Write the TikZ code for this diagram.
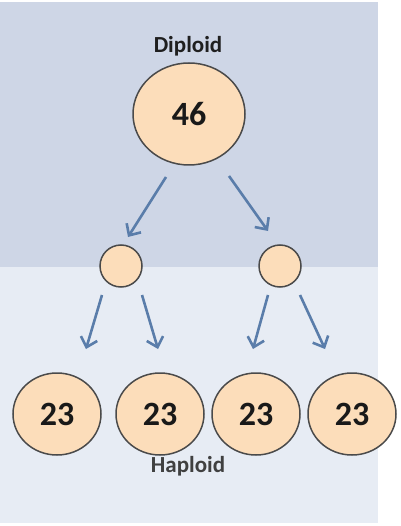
\documentclass[tikz,border=0pt]{standalone}
\usepackage{fontspec}
\setmainfont{Carlito}
\usetikzlibrary{shapes.geometric,arrows.meta}
\definecolor{topbg}{HTML}{CED6E6}
\definecolor{lowbg}{HTML}{E7ECF4}
\definecolor{cellfill}{HTML}{FCDDBA}
\definecolor{cellline}{HTML}{4A4A4A}
\definecolor{arrowblue}{HTML}{5A7DAA}
\tikzset{
  cell/.style={ellipse, draw=cellline, line width=1.5pt, fill=cellfill, inner sep=0pt,
    font=\fontsize{34}{34}\selectfont\bfseries, text=black!90},
  bigcell/.style={cell, minimum width=112pt, minimum height=102pt},
  smallcell/.style={cell, minimum width=42pt, minimum height=42pt},
  gamete/.style={cell, minimum width=88pt, minimum height=82pt},
  lbl/.style={font=\fontsize{23}{23}\selectfont\bfseries, anchor=base, inner sep=0pt},
  split/.style={draw=arrowblue, line width=2.6pt, -{Straight Barb[length=9pt,width=17pt,line width=2.6pt]}}
}
\begin{document}
\begin{tikzpicture}[x=1pt,y=-1pt]
\useasboundingbox (0,0) rectangle (400,526);
\fill[white] (0,0) rectangle (400,526);
\fill[topbg] (0,2) rectangle (378,267);
\fill[lowbg] (0,267) rectangle (378,523);

\node[lbl, text=black!88] (dip) at (188,53) {Diploid};
\node[lbl, text=black!75] (hap) at (188,472) {Haploid};

\node[bigcell] (p) at (189,114) {46};
\node[smallcell] (m1) at (121,266) {};
\node[smallcell] (m2) at (280,266) {};
\node[gamete] (g1) at (57,414) {23};
\node[gamete] (g2) at (160,414) {23};
\node[gamete] (g3) at (256,414) {23};
\node[gamete] (g4) at (352,414) {23};

\coordinate (a1s) at (166,177); \coordinate (a1e) at (128,237);
\coordinate (a2s) at (229,176); \coordinate (a2e) at (268,231);
\coordinate (b1s) at (102,295); \coordinate (b1e) at (86,349);
\coordinate (b2s) at (142,295); \coordinate (b2e) at (158,349);
\coordinate (b3s) at (268,295); \coordinate (b3e) at (253,349);
\coordinate (b4s) at (300,295); \coordinate (b4e) at (325,349);

\draw[split] (a1s) -- (a1e);
\draw[split] (a2s) -- (a2e);
\draw[split] (b1s) -- (b1e);
\draw[split] (b2s) -- (b2e);
\draw[split] (b3s) -- (b3e);
\draw[split] (b4s) -- (b4e);
\end{tikzpicture}
\end{document}
